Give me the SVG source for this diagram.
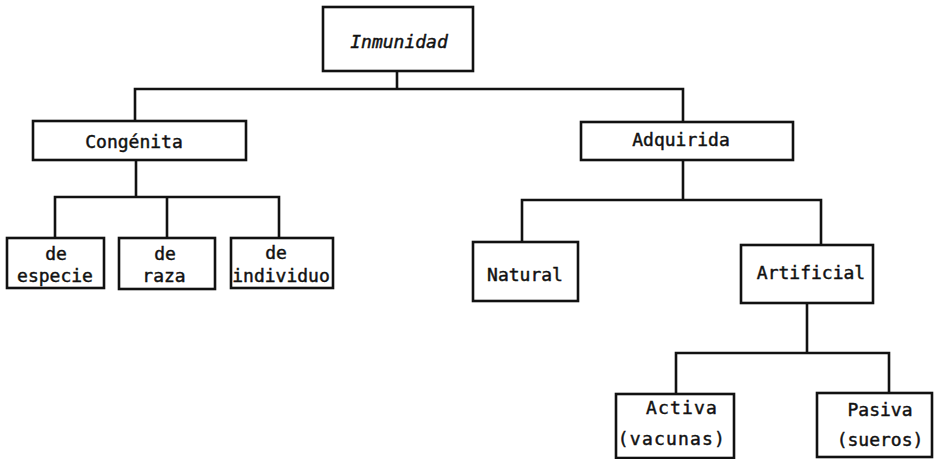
<svg xmlns="http://www.w3.org/2000/svg" width="934" height="459" viewBox="0 0 934 459">
  <style>
    .box { fill: #ffffff; stroke: #111111; stroke-width: 2.6; }
    .wire { fill: none; stroke: #111111; stroke-width: 2.6; stroke-linecap: square; }
    .lbl { font-family: "DejaVu Sans Mono", "Liberation Mono", monospace; font-size: 18px; fill: #111111; stroke: #111111; stroke-width: 0.45; text-anchor: middle; }
    .it { font-style: italic; }
    .wide { letter-spacing: 1.2px; }
  </style>
  <rect width="934" height="459" fill="#ffffff"/>

  <!-- tree connectors -->
  <g id="connectors" class="wire">
    <path d="M397 71 V89 M135 89 H683 M135 89 V121 M683 89 V122"/>
    <path d="M136 160 V197 M55 197 H279 M55 197 V238 M167 197 V238 M279 197 V238"/>
    <path d="M683 160 V200 M522 200 H821 M522 200 V242 M821 200 V245"/>
    <path d="M807 303 V353 M676 353 H889 M676 353 V394 M889 353 V393"/>
  </g>

  <g id="inmunidad">
    <rect class="box" x="323" y="7" width="150" height="64"/>
    <text class="lbl it" x="399" y="48">Inmunidad</text>
  </g>

  <g id="congenita">
    <rect class="box" x="33" y="121" width="213" height="39"/>
    <text class="lbl" x="134" y="148">Congénita</text>
  </g>

  <g id="especie">
    <rect class="box" x="7" y="238" width="97" height="50"/>
    <text class="lbl" x="56" y="260">de</text>
    <text class="lbl" x="55" y="282">especie</text>
  </g>

  <g id="raza">
    <rect class="box" x="119" y="238" width="96" height="51"/>
    <text class="lbl" x="165" y="260">de</text>
    <text class="lbl" x="164" y="282">raza</text>
  </g>

  <g id="individuo">
    <rect class="box" x="231" y="238" width="102" height="50"/>
    <text class="lbl" x="276" y="259">de</text>
    <text class="lbl" x="281" y="282">individuo</text>
  </g>

  <g id="adquirida">
    <rect class="box" x="581" y="122" width="212" height="38"/>
    <text class="lbl" x="681" y="146">Adquirida</text>
  </g>

  <g id="natural">
    <rect class="box" x="473" y="242" width="105" height="59"/>
    <text class="lbl" x="525" y="281">Natural</text>
  </g>

  <g id="artificial">
    <rect class="box" x="741" y="245" width="132" height="58"/>
    <text class="lbl" x="811" y="279">Artificial</text>
  </g>

  <g id="activa">
    <rect class="box" x="616" y="394" width="118" height="64"/>
    <text class="lbl wide" x="682" y="414">Activa</text>
    <text class="lbl wide" x="672" y="445">(vacunas)</text>
  </g>

  <g id="pasiva">
    <rect class="box" x="817" y="393" width="115" height="64"/>
    <text class="lbl" x="880" y="416">Pasiva</text>
    <text class="lbl" x="880" y="446">(sueros)</text>
  </g>
</svg>
